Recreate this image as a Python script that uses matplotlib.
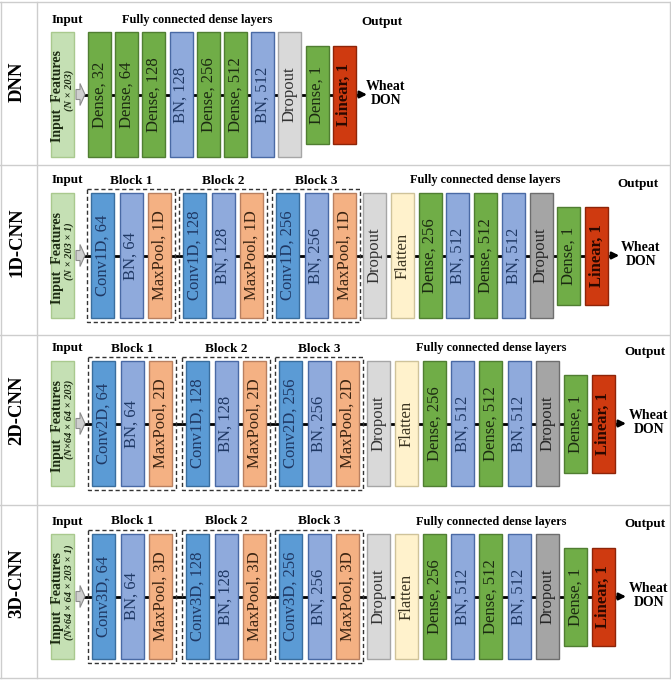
import matplotlib
matplotlib.use("Agg")
import matplotlib.pyplot as plt
from matplotlib.patches import Rectangle, Polygon

plt.rcParams['font.family'] = ['Liberation Serif', 'DejaVu Serif']

# data
row_names = ["DNN", "1D-CNN", "2D-CNN", "3D-CNN"]
input_dims = ["(N × 203)", "(N × 203 × 1)", "(N×64 × 64 × 203)", "(N×64 × 64 × 203 × 1)"]

dnn_layers = ["Dense, 32", "Dense, 64", "Dense, 128", "BN, 128", "Dense, 256",
              "Dense, 512", "BN, 512", "Dropout", "Dense, 1", "Linear, 1"]
dnn_kinds = ["dense", "dense", "dense", "bn", "dense", "dense", "bn", "drop", "dense", "linear"]

cnn1d_blocks = [["Conv1D, 64", "BN, 64", "MaxPool, 1D"],
                ["Conv1D, 128", "BN, 128", "MaxPool, 1D"],
                ["Conv1D, 256", "BN, 256", "MaxPool, 1D"]]
cnn2d_blocks = [["Conv2D, 64", "BN, 64", "MaxPool, 2D"],
                ["Conv1D, 128", "BN, 128", "MaxPool, 2D"],
                ["Conv2D, 256", "BN, 256", "MaxPool, 2D"]]
cnn3d_blocks = [["Conv3D, 64", "BN, 64", "MaxPool, 3D"],
                ["Conv3D, 128", "BN, 128", "MaxPool, 3D"],
                ["Conv3D, 256", "BN, 256", "MaxPool, 3D"]]
block_kinds = ["conv", "bn", "pool"]

fc_layers = ["Dropout", "Flatten", "Dense, 256", "BN, 512", "Dense, 512",
             "BN, 512", "Dropout", "Dense, 1", "Linear, 1"]
fc_kinds = ["drop", "flatten", "dense", "bn", "dense", "bn", "drop2", "dense", "linear"]

# styles
fills = {"dense": "#70AD47", "bn": "#8FAADC", "conv": "#5B9BD5", "pool": "#F4B183",
         "drop": "#D9D9D9", "drop2": "#A5A5A5", "flatten": "#FFF2CC", "linear": "#CF3A10",
         "input": "#C5E0B4"}
edges = {"dense": "#507E32", "bn": "#4A6AA5", "conv": "#3A6E9E", "pool": "#B98060",
         "drop": "#A6A6A6", "drop2": "#6E6E6E", "flatten": "#CFC39A", "linear": "#8E2408",
         "input": "#A9C98E"}
tcols = {"dense": "#1C2A12", "bn": "#1F3864", "conv": "#1F3864", "pool": "#3B2412",
         "drop": "#333333", "drop2": "#262626", "flatten": "#3A3320", "linear": "#2A0800"}

W = 23
H = 125
H_SHORT = 98

fig = plt.figure(figsize=(6.71, 6.80), dpi=100)
ax = fig.add_axes([0, 0, 1, 1])
ax.set_xlim(0, 671)
ax.set_ylim(680, 0)
ax.axis("off")

# table grid
grid_c = "#CDCDCD"
for y in [2, 165, 335, 505, 678]:
    ax.plot([0, 670], [y, y], color=grid_c, lw=1)
ax.plot([37, 37], [2, 678], color=grid_c, lw=1)
ax.plot([0.5, 0.5], [2, 678], color=grid_c, lw=1)
ax.plot([670, 670], [2, 678], color=grid_c, lw=1)


def box(x, cy, kind, label, short=False):
    h = H_SHORT if short else H
    ax.add_patch(Rectangle((x, cy - h / 2), W, h, facecolor=fills[kind],
                           edgecolor=edges[kind], lw=1.0, zorder=3))
    bold = kind == "linear"
    ax.text(x + W / 2, cy, label, rotation=90, ha="center", va="center",
            fontsize=12, color=tcols[kind], fontweight="bold" if bold else "normal",
            zorder=4)


def input_part(cy, dims, name):
    ax.text(17, cy - 13, name, rotation=90, ha="center", va="center",
            fontsize=13.5, fontweight="bold")
    ax.add_patch(Rectangle((51, cy - H / 2), W, H, facecolor=fills["input"],
                           edgecolor=edges["input"], lw=1.0, zorder=3))
    ax.text(57.5, cy + 2, "Input  Features", rotation=90, ha="center", va="center",
            fontsize=10, fontweight="bold", color="#1C2A12", zorder=4)
    ax.text(69, cy - 4, dims, rotation=90, ha="center", va="center",
            fontsize=7.5, fontweight="bold", style="italic", color="#1C2A12", zorder=4)
    ax.add_patch(Polygon([(76, cy - 5), (80, cy - 5), (80, cy - 11), (85, cy),
                          (80, cy + 11), (80, cy + 5), (76, cy + 5)],
                         closed=True, facecolor="#CFCFCF", edgecolor="#8C8C8C",
                         lw=0.8, zorder=3))
    ax.text(67, cy - 75, "Input", ha="center", va="center", fontsize=9.5,
            fontweight="bold")


def output_part(cy, last_right, out_x, text_x):
    ax.annotate("", xy=(last_right + 14, cy), xytext=(last_right, cy),
                arrowprops=dict(arrowstyle="-|>", color="black", lw=1.8,
                                mutation_scale=10), zorder=2)
    ax.text(text_x, cy - 1, "Wheat\nDON", ha="center", va="center", fontsize=10,
            fontweight="bold", linespacing=1.15)
    ax.text(out_x, cy - 72, "Output", ha="center", va="center", fontsize=9.5,
            fontweight="bold")


# DNN row
cy = 94.5
input_part(cy, input_dims[0], row_names[0])
x0, pitch = 88, 27.2
for i, (lab, k) in enumerate(zip(dnn_layers, dnn_kinds)):
    box(x0 + i * pitch, cy, k, lab, short=i >= len(dnn_layers) - 2)
last = x0 + (len(dnn_layers) - 1) * pitch + W
ax.plot([84, last], [cy, cy], color="black", lw=2, zorder=1)
ax.text(197, cy - 75, "Fully connected dense layers", ha="center", va="center",
        fontsize=8.8, fontweight="bold")
output_part(cy, last, 382, 386)

# CNN rows
cnn_rows = [(255.5, cnn1d_blocks, [91, 183, 276], 363, 27.75, 638, 641),
            (423.5, cnn2d_blocks, [92, 186, 279], 367, 28.1, 645, 649),
            (596.5, cnn3d_blocks, [92, 186, 279], 367, 28.1, 645, 649)]
for r, (cy, blocks, bx, fx0, fpitch, out_x, text_x) in enumerate(cnn_rows, start=1):
    input_part(cy, input_dims[r], row_names[r])
    for b, labels in enumerate(blocks):
        for j, (lab, k) in enumerate(zip(labels, block_kinds)):
            box(bx[b] + j * 28.5, cy, k, lab)
        left = bx[b] - 4
        right = bx[b] + 2 * 28.5 + W + 4
        ax.add_patch(Rectangle((left, cy - H / 2 - 4), right - left, H + 8,
                               facecolor="none", edgecolor="#333333", lw=1,
                               linestyle=(0, (3, 2)), zorder=2))
        ax.text((left + right) / 2, cy - 75, "Block %d" % (b + 1), ha="center",
                va="center", fontsize=9.5, fontweight="bold")
    for i, (lab, k) in enumerate(zip(fc_layers, fc_kinds)):
        box(fx0 + i * fpitch, cy, k, lab, short=i >= len(fc_layers) - 2)
    last = fx0 + (len(fc_layers) - 1) * fpitch + W
    ax.plot([84, last], [cy, cy], color="black", lw=2, zorder=1)
    ax.text((fx0 + last) / 2, cy - 75, "Fully connected dense layers", ha="center",
            va="center", fontsize=8.8, fontweight="bold")
    output_part(cy, last, out_x, text_x)

fig.savefig("out.png", dpi=100)
